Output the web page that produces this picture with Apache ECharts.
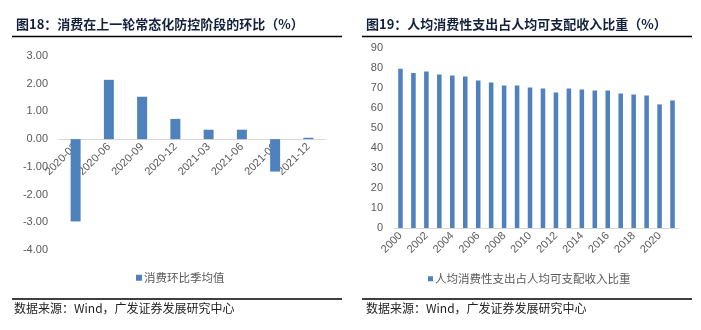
<!DOCTYPE html>
<html><head><meta charset="utf-8">
<script src="https://cdn.jsdelivr.net/npm/echarts@6/dist/echarts.min.js"></script>
<style>html,body{margin:0;padding:0;background:#fff;}#c{width:701px;height:330px;}</style>
</head><body><div id="c"></div>
<script>
const leftTitle = '图18：消费在上一轮常态化防控阶段的环比（%）';
const rightTitle = '图19：人均消费性支出占人均可支配收入比重（%）';
const sourceText = '数据来源：Wind，广发证券发展研究中心';
const leftSeriesName = '消费环比季均值';
const rightSeriesName = '人均消费性支出占人均可支配收入比重';
const leftCategories = ['2020-03','2020-06','2020-09','2020-12','2021-03','2021-06','2021-09','2021-12'];
const leftValues = [-2.97, 2.14, 1.53, 0.73, 0.34, 0.34, -1.17, 0.05];
const rightCategories = ['2000','2001','2002','2003','2004','2005','2006','2007','2008','2009','2010','2011','2012','2013','2014','2015','2016','2017','2018','2019','2020','2021'];
const rightValues = [79.6, 77.5, 78.3, 76.8, 76.3, 75.8, 73.8, 72.8, 71.3, 71.3, 70.3, 69.8, 67.8, 69.8, 69.3, 68.8, 68.8, 67.3, 66.8, 66.3, 61.8, 63.8];
const leftMin = -4, leftMax = 3;

const chart = echarts.init(document.getElementById('c'), null, {renderer:'canvas'});
const lab = {color:'#595959', fontSize:11, fontFamily:'Liberation Sans, Arial, sans-serif'};
const cjk = '"Noto Sans CJK SC", sans-serif';
const barColor = '#4F81BD';
const leftGrid = {left:59, top:56, width:266, height:194};
// place the category axis line at the value 0 of the left chart
const zeroOffset = -leftGrid.height * (0 - leftMin) / (leftMax - leftMin);
chart.setOption({
  animation:false,
  backgroundColor:'#fff',
  graphic:[
    {type:'text', left:16, top:18, style:{text:leftTitle, font:'bold 13px '+cjk, fill:'#14213d'}},
    {type:'text', left:366, top:18, style:{text:rightTitle, font:'bold 13px '+cjk, fill:'#14213d'}},
    {type:'line', shape:{x1:12,y1:36.5,x2:342,y2:36.5}, style:{stroke:'#000', lineWidth:1.3}},
    {type:'line', shape:{x1:362,y1:36.5,x2:692,y2:36.5}, style:{stroke:'#000', lineWidth:1.3}},
    {type:'line', shape:{x1:12,y1:299,x2:342,y2:299}, style:{stroke:'#000', lineWidth:1.3}},
    {type:'line', shape:{x1:362,y1:299,x2:692,y2:299}, style:{stroke:'#000', lineWidth:1.3}},
    {type:'text', left:14, top:302, style:{text:sourceText, font:'12px '+cjk, fill:'#222'}},
    {type:'text', left:366, top:302, style:{text:sourceText, font:'12px '+cjk, fill:'#222'}}
  ],
  legend:[
    {left:131, top:267, itemWidth:6, itemHeight:6, itemGap:4, icon:'rect', data:[leftSeriesName],
     textStyle:{color:'#595959', fontSize:11.5, fontFamily:cjk, padding:[0,0,0,-3]}},
    {left:423, top:268, itemWidth:5, itemHeight:5, icon:'rect', data:[rightSeriesName],
     textStyle:{color:'#595959', fontSize:11.5, fontFamily:cjk, padding:[0,0,0,-3]}}
  ],
  grid:[
    leftGrid,
    {left:394, top:48, width:285, height:180}
  ],
  xAxis:[
    {type:'category', gridIndex:0, data:leftCategories, position:'bottom', offset:zeroOffset,
     axisLine:{onZero:false, lineStyle:{color:'#D9D9D9'}}, axisTick:{length:4, lineStyle:{color:'#D9D9D9'}},
     axisLabel:Object.assign({rotate:45, interval:0, margin:6}, lab)},
    {type:'category', gridIndex:1, data:rightCategories,
     axisLine:{lineStyle:{color:'#D9D9D9'}}, axisTick:{length:4, interval:1, lineStyle:{color:'#D9D9D9'}},
     axisLabel:Object.assign({rotate:45, interval:1, margin:6}, lab)}
  ],
  yAxis:[
    {type:'value', gridIndex:0, min:leftMin, max:leftMax, interval:1, splitLine:{show:false},
     axisLine:{show:false}, axisTick:{show:false},
     axisLabel:Object.assign({formatter:v=>v.toFixed(2), margin:11}, lab)},
    {type:'value', gridIndex:1, min:0, max:90, interval:10, splitLine:{show:false},
     axisLine:{show:false}, axisTick:{show:false},
     axisLabel:Object.assign({margin:11}, lab)}
  ],
  series:[
    {type:'bar', name:leftSeriesName, xAxisIndex:0, yAxisIndex:0, data:leftValues, barWidth:'30%', itemStyle:{color:barColor}},
    {type:'bar', name:rightSeriesName, xAxisIndex:1, yAxisIndex:1, data:rightValues, barWidth:'35%', itemStyle:{color:barColor}}
  ]
});
</script></body></html>
